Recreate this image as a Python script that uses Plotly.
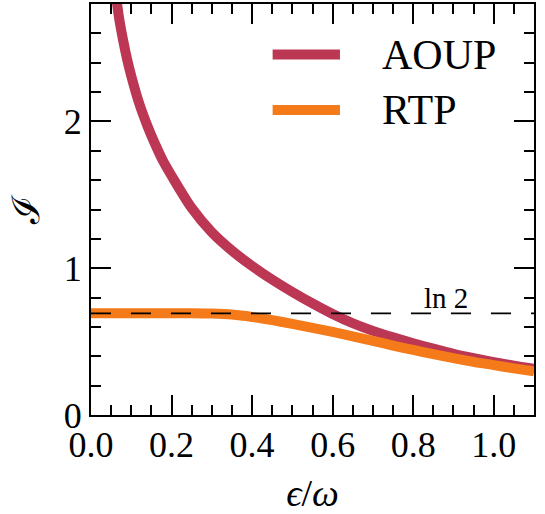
import plotly.graph_objects as go

# ---- data ----
x_aoup = [0.06, 0.07, 0.08, 0.09, 0.10, 0.12, 0.14, 0.16, 0.18, 0.20, 0.25, 0.30,
          0.35, 0.40, 0.45, 0.50, 0.55, 0.60, 0.65, 0.70, 0.75, 0.80, 0.85, 0.90,
          0.95, 1.00, 1.05, 1.10]
y_aoup = [2.90, 2.70, 2.55, 2.42, 2.31, 2.12, 1.97, 1.84, 1.725, 1.63, 1.41, 1.245,
          1.12, 1.015, 0.922, 0.838, 0.760, 0.688, 0.625, 0.573, 0.529, 0.489, 0.452, 0.417,
          0.387, 0.360, 0.336, 0.315]

x_rtp = [0.00, 0.05, 0.10, 0.15, 0.20, 0.25, 0.30, 0.35, 0.40, 0.45, 0.50, 0.55,
         0.60, 0.65, 0.70, 0.75, 0.80, 0.85, 0.90, 0.95, 1.00, 1.05, 1.10]
y_rtp = [0.693, 0.693, 0.693, 0.693, 0.693, 0.693, 0.691, 0.684, 0.668, 0.646, 0.621, 0.594,
         0.566, 0.536, 0.505, 0.473, 0.443, 0.414, 0.388, 0.362, 0.340, 0.318, 0.297]

LN2 = 0.693
x_ref = [0.0, 1.1]
y_ref = [LN2, LN2]

x_ticks = [0.0, 0.2, 0.4, 0.6, 0.8, 1.0]
x_ticklabels = ["0.0", "0.2", "0.4", "0.6", "0.8", "1.0"]
y_ticks = [0, 1, 2]
y_ticklabels = ["0", "1", "2"]

names = ["AOUP", "RTP"]
colors = ["#bc3754", "#f47a1a"]

SERIF = "Liberation Serif, DejaVu Serif, serif"

fig = go.Figure()
fig.add_trace(go.Scatter(x=x_aoup, y=y_aoup, mode="lines", name=names[0],
                         line=dict(color=colors[0], width=10, shape="spline", smoothing=0.8),
                         showlegend=False))
fig.add_trace(go.Scatter(x=x_rtp, y=y_rtp, mode="lines", name=names[1],
                         line=dict(color=colors[1], width=10, shape="spline", smoothing=0.8),
                         showlegend=False))
fig.add_trace(go.Scatter(x=x_ref, y=y_ref, mode="lines", name="ln 2",
                         line=dict(color="black", width=1.8, dash="20px,20px"),
                         showlegend=False))

# custom legend (long line samples like the reference)
leg_y = [0.877, 0.742]
for i in range(2):
    fig.add_shape(type="line", xref="paper", yref="paper",
                  x0=0.410, x1=0.562, y0=leg_y[i], y1=leg_y[i],
                  line=dict(color=colors[i], width=10))
    fig.add_annotation(xref="paper", yref="paper", x=0.652, y=leg_y[i],
                       text=names[i], showarrow=False, xanchor="left", yanchor="middle",
                       font=dict(family=SERIF, size=42, color="black"))

fig.add_annotation(x=0.881, y=0.80, text="ln 2", showarrow=False,
                   xanchor="center", yanchor="middle",
                   font=dict(family=SERIF, size=29, color="black"))

axis_common = dict(showline=True, linecolor="black", linewidth=2, mirror="allticks",
                   ticks="inside", tickwidth=1.5, ticklen=20, tickcolor="black",
                   showgrid=False, zeroline=False, automargin=False,
                   tickfont=dict(family=SERIF, size=36, color="black"))

fig.update_xaxes(range=[0, 1.1], tickvals=x_ticks, ticktext=x_ticklabels,
                 ticklabelstandoff=-3,
                 minor=dict(dtick=0.05, tick0=0, ticks="inside", ticklen=10,
                            tickwidth=1.5, tickcolor="black", showgrid=False),
                 title=dict(text="<i>ϵ</i>/<i>ω</i>", standoff=19,
                            font=dict(family=SERIF, size=38, color="black")),
                 **axis_common)
fig.update_yaxes(range=[0, 2.8], tickvals=y_ticks, ticktext=y_ticklabels,
                 minor=dict(dtick=0.2, tick0=0, ticks="inside", ticklen=10,
                            tickwidth=1.5, tickcolor="black", showgrid=False),
                 title=dict(text="ℐ", standoff=12,
                            font=dict(family=SERIF, size=38, color="black")),
                 **axis_common)

fig.update_layout(width=545, height=514,
                  margin=dict(l=91, r=11, t=4, b=99),
                  paper_bgcolor="white", plot_bgcolor="white",
                  showlegend=False)

fig.write_html("out.html", config={"displayModeBar": False},
               post_script="document.body.style.margin='0';document.body.style.padding='0';")
